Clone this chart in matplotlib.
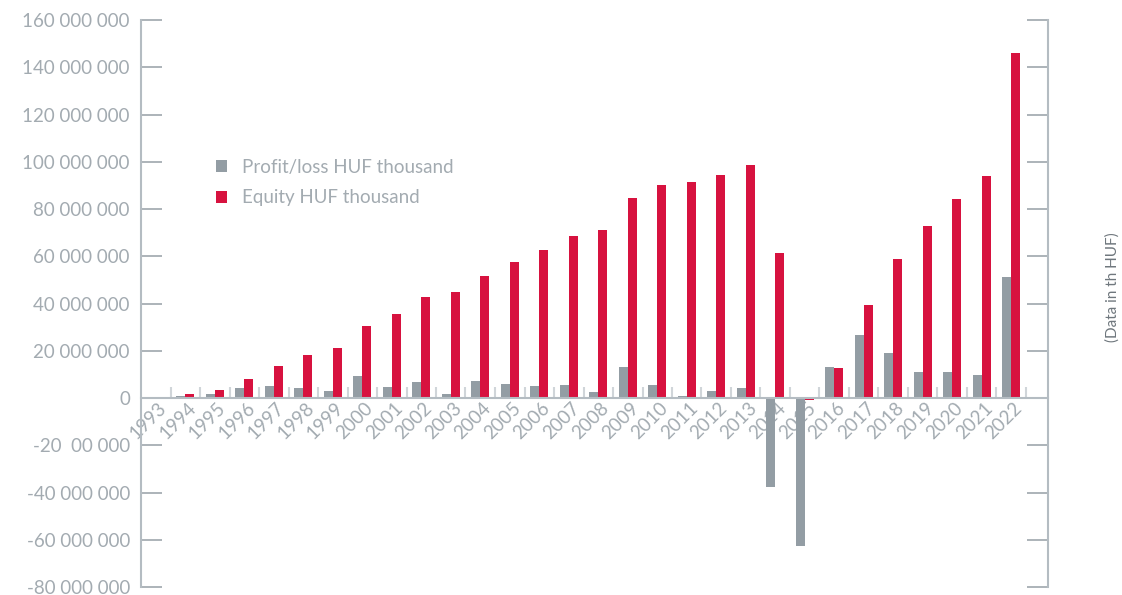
import numpy as np
import matplotlib
matplotlib.use("Agg")
import matplotlib.pyplot as plt
import matplotlib.transforms as mtransforms
from matplotlib.ticker import FixedLocator

years = [str(y) for y in range(1993, 2023)]
profit = [0.1, 0.8, 1.8, 4.3, 5.1, 4.3, 3.0, 9.3, 4.7, 6.8,
          1.8, 7.2, 5.9, 5.1, 5.5, 2.6, 13.2, 5.5, 0.9, 3.0,
          4.3, -37.7, -62.6, 13.2, 26.7, 19.0, 11.0, 11.0, 9.7, 51.1]
equity = [0.6, 1.7, 3.4, 8.0, 13.5, 18.2, 21.2, 30.5, 35.5, 42.7,
          44.8, 51.6, 57.5, 62.6, 68.6, 71.1, 84.7, 90.2, 91.4, 94.4,
          98.6, 61.4, -0.8, 12.7, 39.4, 58.8, 72.8, 84.2, 94.0, 146.0]
yticks = [160, 140, 120, 100, 80, 60, 40, 20, 0, -20, -40, -60, -80]
ylabels = ["160 000 000", "140 000 000", "120 000 000", "100 000 000",
           "80 000 000", "60 000 000", "40 000 000", "20 000 000", "0",
           "-20  00 000", "-40 000 000", "-60 000 000", "-80 000 000"]

plt.rcParams['font.family'] = ['Lato', 'DejaVu Sans']
text_col = '#a3abb1'
axis_col = '#b4bcc2'
grey = '#939da4'
red = '#d7123f'

fig = plt.figure(figsize=(11.22, 5.95), dpi=100)
ax = fig.add_axes([141 / 1122, 1 - 587 / 595, (1048 - 141) / 1122, (587 - 20) / 595])

x = np.arange(len(years))
w = 0.305
ax.bar(x - w / 2, np.array(profit) * 1e6, w, color=grey, label='Profit/loss HUF thousand', zorder=2)
ax.bar(x + w / 2, np.array(equity) * 1e6, w, color=red, label='Equity HUF thousand', zorder=2)

ax.set_xlim(-0.5, -0.5 + (1048 - 141) / 29.5)
ax.set_ylim(-80e6, 160e6)

# y axis
ax.set_yticks(np.array(yticks) * 1e6)
ax.set_yticklabels(ylabels, fontsize=13.5, color=text_col)
ax.tick_params(axis='y', direction='in', length=15, width=1.2, color='#9ea7ad',
               pad=8, right=True)

# x axis along zero
ax.spines['bottom'].set_position(('data', 0))
ax.spines['top'].set_visible(False)
for s in ['left', 'right', 'bottom']:
    ax.spines[s].set_color(axis_col)
    ax.spines[s].set_linewidth(1.5)

ax.set_xticks(x)
ax.set_xticklabels(years, rotation=45, ha='right', va='top', fontsize=13.5,
                   color=text_col)
ax.tick_params(axis='x', which='major', length=0, pad=1)
ax.xaxis.set_minor_locator(FixedLocator(x + 0.5))
ax.tick_params(axis='x', which='minor', direction='in', length=8, width=1.5, color='#d0d5d9')
offset = mtransforms.ScaledTranslation(0.14, 0, fig.dpi_scale_trans)
for lab in ax.get_xticklabels():
    lab.set_transform(lab.get_transform() + offset)

leg = ax.legend(loc='upper left', bbox_to_anchor=(0.064, 0.785), frameon=False,
                fontsize=13.5, handlelength=0.6, handleheight=0.6,
                handletextpad=0.8, labelspacing=0.72)
for t in leg.get_texts():
    t.set_color(text_col)

fig.text(1113 / 1122, 1 - 287 / 595, "(Data in th HUF)", rotation=90,
         ha='center', va='center', fontsize=11, color='#6f777d')

fig.savefig('out.png', dpi=100)
